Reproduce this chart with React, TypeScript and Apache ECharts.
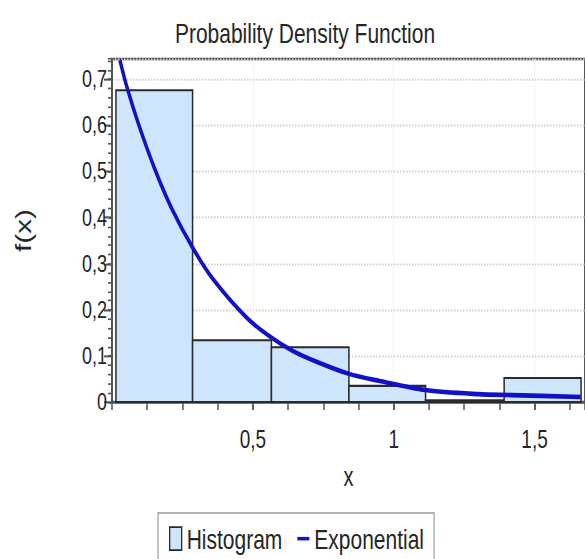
import React, { useEffect, useRef } from 'react';
import * as echarts from 'echarts';

// Histogram bins (x start, x end, density)
const binStarts = [0.035, 0.307, 0.587, 0.862, 1.134, 1.413];
const binEnds = [0.307, 0.587, 0.862, 1.134, 1.413, 1.686];
const binHeights = [0.676, 0.134, 0.119, 0.035, 0.004, 0.052];

// Exponential curve
const curveX = [0.049, 0.073, 0.114, 0.173, 0.232, 0.308, 0.379, 0.497, 0.579, 0.662, 0.756, 0.862, 0.968, 1.133, 1.321, 1.438, 1.685];
const curveY = [0.742, 0.685, 0.605, 0.505, 0.421, 0.334, 0.267, 0.184, 0.143, 0.111, 0.085, 0.061, 0.046, 0.026, 0.017, 0.015, 0.011];

const xMin = 0.021;
const xMax = 1.7;
const yMin = 0;
const yMax = 0.744;

const titleText = 'Probability Density Function';
const xName = 'x';
const yName = 'f(x)';
const seriesNames = ['Histogram', 'Exponential'];

// the reference picture is stretched vertically; we draw at 1/S height and stretch
const S = 1.35;
const W = 585;
const H = 559;

const FONT = "'Liberation Sans', Arial, sans-serif";
const TEXT = '#262626';
const BAR_FILL = '#cfe5fb';
const BAR_EDGE = '#2a2a2a';
const CURVE = '#1212c4';

const fmt = (v: number) => {
  if (Math.abs(v) < 1e-9) return '0';
  const r = Math.round(v * 10) / 10;
  return String(r).replace('.', ',');
};

export default function App() {
  const ref = useRef<HTMLDivElement>(null);
  useEffect(() => {
    if (!ref.current) return;
    const chart = echarts.init(ref.current, undefined, { renderer: 'svg' });
    const barData = binStarts.map((s, i) => [s, binEnds[i], binHeights[i]]);
    const curveData = curveX.map((x, i) => [x, curveY[i]]);
    const gridTop = 59 / S;
    const gridBottom = 402 / S;
    chart.setOption({
      animation: false,
      backgroundColor: '#ffffff',
      title: {
        text: titleText,
        left: 300,
        textAlign: 'center',
        top: 9,
        textStyle: { fontFamily: FONT, fontSize: 21, fontWeight: 'normal', color: TEXT },
      },
      grid: {
        left: 112,
        top: gridTop,
        width: 475,
        height: gridBottom - gridTop,
        show: true,
        borderColor: '#555555',
        borderWidth: 2,
        backgroundColor: 'transparent',
      },
      legend: {
        left: 158,
        top: 513 / S,
        padding: [8.5, 10, 30, 11],
        borderColor: '#b0b0b0',
        borderWidth: 1.5,
        itemWidth: 12,
        itemHeight: 17,
        itemGap: 15,
        textStyle: { fontFamily: FONT, fontSize: 21, color: TEXT },
        data: [
          { name: seriesNames[0], icon: 'rect', itemStyle: { color: BAR_FILL, borderColor: BAR_EDGE, borderWidth: 1.3 } },
          { name: seriesNames[1], icon: 'path://M0,0 L12,0 L12,2.6 L0,2.6 Z', itemStyle: { color: CURVE, borderWidth: 0 } },
        ],
      },
      xAxis: [
        {
          type: 'value',
          min: xMin,
          max: xMax,
          interval: 0.5,
          name: xName,
          nameLocation: 'middle',
          nameGap: 45,
          nameTextStyle: { fontFamily: FONT, fontSize: 20, color: TEXT },
          axisLine: { show: true, lineStyle: { color: '#555555', width: 2 } },
          axisTick: { show: true, length: 6, lineStyle: { color: '#555555', width: 1.5 } },
          axisLabel: {
            showMinLabel: false,
            showMaxLabel: false,
            margin: 18,
            fontFamily: FONT,
            fontSize: 19,
            color: TEXT,
            formatter: (v: number) => fmt(v),
          },
          splitLine: { show: true, lineStyle: { color: '#ececec', type: 'dotted', width: 1 } },
        },
        {
          type: 'value',
          position: 'bottom',
          min: xMin,
          max: xMax,
          interval: 0.125,
          axisLine: { show: false },
          axisTick: { show: true, length: 6, lineStyle: { color: '#555555', width: 1.5 } },
          axisLabel: { show: false },
          splitLine: { show: false },
        },
      ],
      yAxis: [
        {
          type: 'value',
          min: yMin,
          max: yMax,
          interval: 0.1,
          name: yName,
          nameLocation: 'middle',
          nameRotate: 90,
          nameGap: 78,
          nameTextStyle: { fontFamily: FONT, fontSize: 22, color: TEXT },
          axisLine: { show: true, lineStyle: { color: '#555555', width: 2 } },
          axisTick: { show: true, length: 8, lineStyle: { color: '#555555', width: 1.5 } },
          axisLabel: {
            showMaxLabel: false,
            margin: 5,
            fontFamily: FONT,
            fontSize: 18,
            color: TEXT,
            formatter: (v: number) => fmt(v),
          },
          splitLine: { show: true, lineStyle: { color: '#d2d2d2', type: 'dotted', width: 1.5 } },
        },
        {
          type: 'value',
          position: 'left',
          min: yMin,
          max: yMax,
          interval: 0.02,
          axisLine: { show: false },
          axisTick: { show: true, length: 4, lineStyle: { color: '#555555', width: 1.2 } },
          axisLabel: { show: false },
          splitLine: { show: false },
        },
      ],
      series: [
        {
          name: seriesNames[0],
          type: 'custom',
          xAxisIndex: 0,
          yAxisIndex: 0,
          encode: { x: [0, 1], y: 2 },
          data: barData,
          z: 2,
          renderItem: (params: any, api: any) => {
            const p0 = api.coord([api.value(0), api.value(2)]);
            const p1 = api.coord([api.value(1), 0]);
            return {
              type: 'rect',
              shape: { x: p0[0], y: p0[1], width: p1[0] - p0[0], height: p1[1] - p0[1] },
              style: { fill: BAR_FILL, stroke: BAR_EDGE, lineWidth: 1.5 },
            };
          },
        },
        {
          name: seriesNames[1],
          type: 'line',
          xAxisIndex: 0,
          yAxisIndex: 0,
          data: curveData,
          smooth: 0.3,
          showSymbol: false,
          symbol: 'none',
          clip: true,
          z: 5,
          lineStyle: { color: CURVE, width: 3.4 },
          itemStyle: { color: CURVE },
        },
      ],
    });
    return () => chart.dispose();
  }, []);
  return (
    <div style={{ width: W, height: H, position: 'absolute', left: 0, top: 0, overflow: 'hidden', background: '#fff' }}>
      <div
        ref={ref}
        style={{ width: W, height: H / S, transform: `scaleY(${S})`, transformOrigin: '0 0' }}
      />
    </div>
  );
}
